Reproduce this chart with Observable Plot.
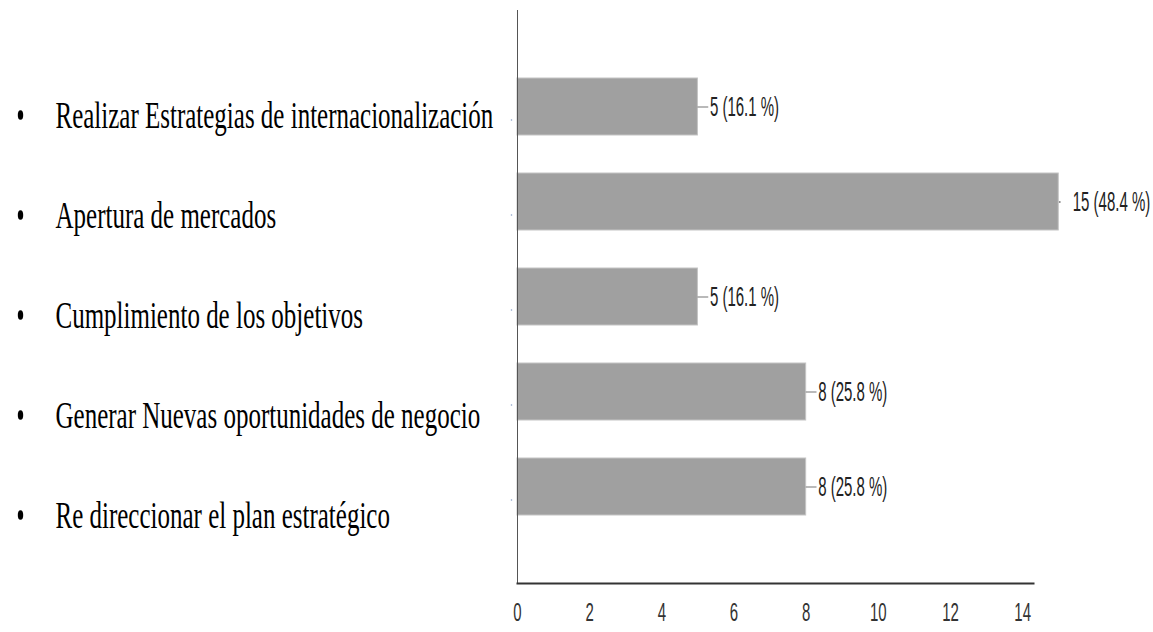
<!DOCTYPE html>
<html><head><meta charset="utf-8">
<script src="https://cdn.jsdelivr.net/npm/d3@7"></script>
<script src="https://cdn.jsdelivr.net/npm/@observablehq/plot@0.6"></script>
<style>body{margin:0;background:#fff}</style>
</head><body><div id="chart"></div>
<script>
const categories = [
  "Realizar Estrategias de internacionalización",
  "Apertura de mercados",
  "Cumplimiento de los objetivos",
  "Generar Nuevas oportunidades de negocio",
  "Re direccionar el plan estratégico"
];
const counts = [5, 15, 5, 8, 8];
const percents = [16.1, 48.4, 16.1, 25.8, 25.8];
const xTicks = [0, 2, 4, 6, 8, 10, 12, 14];

const data = categories.map((c, i) => ({cat: c, v: counts[i], p: percents[i], i}));
const maxV = d3.max(counts);
const valueLabel = d => `${d.v} (${d.p} %)`;

const sans = "Liberation Sans, Arial, sans-serif";
const serif = "Liberation Serif, Times New Roman, serif";

const catMarks = [];
data.forEach((d, i) => {
  catMarks.push(Plot.text([d], {
    y: "cat", frameAnchor: "left", dx: -462, dy: 9 + 5 * i, text: "cat",
    textAnchor: "start", fontSize: 25, fontFamily: serif, fill: "#000"
  }));
  catMarks.push(Plot.dot([d], {
    y: "cat", frameAnchor: "left", dx: -497, dy: 8 + 5 * i, r: 2.7,
    fill: "#000", stroke: null, ariaLabel: "bullet"
  }));
});

const chart = Plot.plot({
  width: 1153, height: 632,
  marginLeft: 517, marginRight: 120, marginTop: 10, marginBottom: 49,
  x: {domain: [0, 14.3], label: null},
  y: {domain: categories, paddingInner: 0.4, paddingOuter: 0.7, axis: null, label: null},
  style: {fontFamily: sans, background: "#fff", overflow: "visible"},
  marks: [
    Plot.barX(data, {x: "v", y: "cat", fill: "#a0a0a0", stroke: "#c4c4c4", strokeWidth: 1}),
    Plot.ruleY(data.filter(d => d.v < maxV), {y: "cat", x1: "v", x2: d => d.v + 0.3, stroke: "#8a8a8a", strokeWidth: 1.2}),
    Plot.dot(data.filter(d => d.v === maxV), {x: "v", y: "cat", r: 1, fill: "#888", stroke: null, dx: 1}),
    Plot.text(data.filter(d => d.v < maxV), {x: "v", y: "cat", text: valueLabel, textAnchor: "start", dx: 12, fontSize: 15, fill: "#222"}),
    Plot.text(data.filter(d => d.v === maxV), {x: "v", y: "cat", text: valueLabel, textAnchor: "start", dx: 14, fontSize: 15, fill: "#222"}),
    Plot.dot(data, {y: "cat", frameAnchor: "left", dx: -6, dy: 13, r: 0.8, fill: "#8aa0c8", stroke: null}),
    Plot.ruleX([0], {stroke: "#555", strokeWidth: 1}),
    Plot.frame({anchor: "bottom", stroke: "#333", strokeWidth: 2}),
    Plot.axisX(xTicks, {tickSize: 0, tickPadding: 19, fontSize: 15, fill: "#333", tickFormat: d => String(d), label: null}),
    ...catMarks
  ]
});

function stretchEl(t, s) {
  const tr = t.getAttribute("transform");
  if (tr) t.setAttribute("transform", tr + ` scale(1,${s})`);
  else {
    const x = +t.getAttribute("x") || 0, y = +t.getAttribute("y") || 0;
    t.removeAttribute("x"); t.removeAttribute("y");
    t.setAttribute("transform", `translate(${x},${y}) scale(1,${s})`);
  }
}
const tickSet = new Set(xTicks.map(String));
const catSet = new Set(categories);
chart.querySelectorAll("text").forEach(t => {
  const s = t.textContent;
  if (catSet.has(s)) stretchEl(t, 1.55);
  else if (/%\)$/.test(s)) stretchEl(t, 1.9);
  else if (tickSet.has(s)) stretchEl(t, 1.7);
});
// bullets are slightly elongated ellipses in the reference
chart.querySelectorAll("circle").forEach(c => {
  if (c.getAttribute("r") === "2.7" || c.closest('[aria-label="bullet"]')) {
    const cx = +c.getAttribute("cx") || 0, cy = +c.getAttribute("cy") || 0;
    const pre = c.getAttribute("transform") || "";
    c.setAttribute("transform", `${pre} translate(${cx},${cy}) scale(1,1.8) translate(${-cx},${-cy})`);
  }
});
document.getElementById("chart").appendChild(chart);
</script>
</body></html>
